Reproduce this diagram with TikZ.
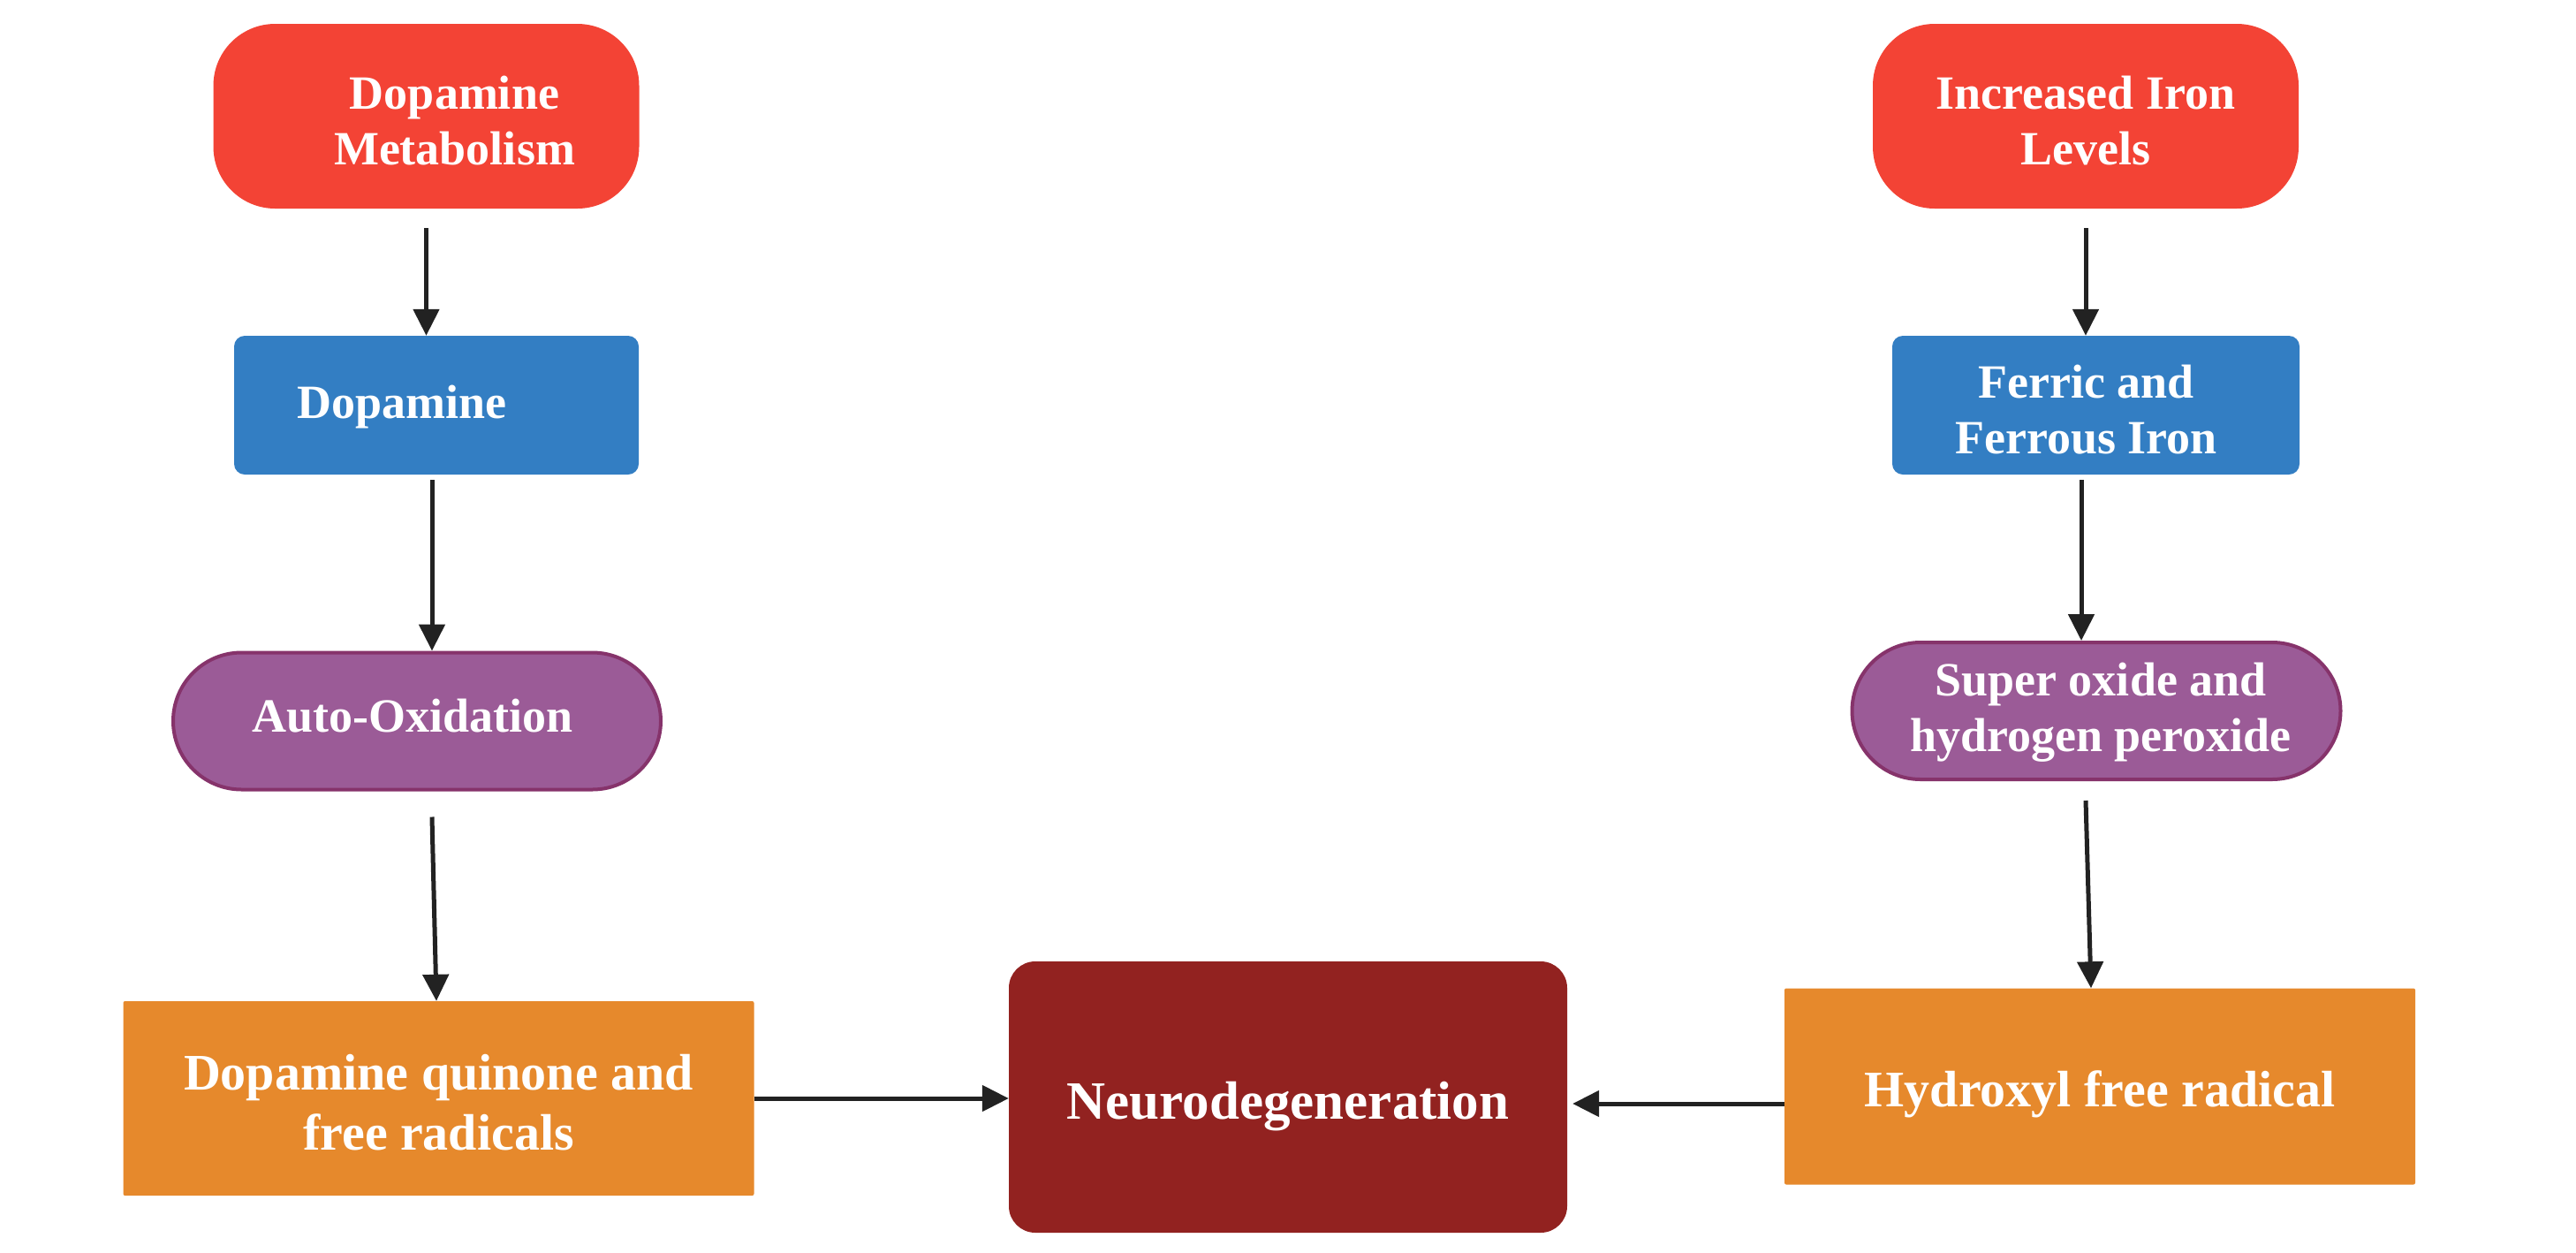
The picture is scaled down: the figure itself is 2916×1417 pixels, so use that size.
\documentclass[tikz,border=0pt]{standalone}
\usepackage{fontspec}
\setmainfont{Liberation Serif}
\usetikzlibrary{arrows.meta,shapes.misc}
\definecolor{cred}{HTML}{F34335}
\definecolor{cblue}{HTML}{337EC3}
\definecolor{cpurp}{HTML}{9B5B97}
\definecolor{cpurpd}{HTML}{86336B}
\definecolor{corange}{HTML}{E6892C}
\definecolor{cdark}{HTML}{922220}
\definecolor{carrow}{HTML}{222222}
\tikzset{
  box/.style={draw=none,inner sep=0pt,text=white,align=center,font=\bfseries\fontsize{54pt}{63pt}\selectfont},
  redbox/.style={box,fill=cred,rounded corners=70pt,minimum width=482pt,minimum height=209pt},
  bluebox/.style={box,fill=cblue,rounded corners=12pt,minimum height=157pt},
  pillbox/.style={box,fill=cpurp,draw=cpurpd,line width=4pt,rounded rectangle,minimum width=552pt,minimum height=155pt},
  orbox/.style={box,fill=corange,rounded corners=2pt,minimum width=714pt,font=\bfseries\fontsize{58pt}{68pt}\selectfont},
  neubox/.style={box,fill=cdark,rounded corners=30pt,minimum width=632pt,minimum height=307pt,font=\bfseries\fontsize{61pt}{70pt}\selectfont},
  arr/.style={draw=carrow,line width=5pt,-{Triangle[length=30pt,width=29pt]}},
}
% centred lines, drawn #1 lower than their natural place
\newcommand{\tl}[2]{\raisebox{-#1}[\height][\depth]{\begin{tabular}{@{}c@{}}#2\end{tabular}}}
\begin{document}
\begin{tikzpicture}[x=1pt,y=-1pt]
\useasboundingbox[fill=white] (0,0) rectangle (2916,1417);
% left column
\node[redbox] (dm) at (482.5,131.5) {\hspace*{64pt}\tl{11pt}{Dopamine\\Metabolism}};
\node[bluebox,minimum width=458pt] (dop) at (494,458.5) {\tl{2pt}{Dopamine}\hspace*{78pt}};
\node[pillbox] (auto) at (472,816) {\tl{0pt}{Auto-Oxidation}\hspace*{10pt}};
\node[orbox,minimum height=220pt] (dq) at (496.5,1243) {\tl{11pt}{Dopamine quinone and\\free radicals}};
% centre
\node[neubox] (neuro) at (1458,1241.5) {\tl{11pt}{Neurodegeneration}};
% right column
\node[redbox] (iron) at (2361,131.5) {\tl{11pt}{Increased Iron\\Levels}};
\node[bluebox,minimum width=461pt] (fer) at (2372.5,458.5) {\tl{11pt}{Ferric and\\Ferrous Iron}\hspace*{22pt}};
\node[pillbox,minimum width=553pt] (sup) at (2373,804.5) {\hspace*{10pt}\tl{2pt}{Super oxide and\\hydrogen peroxide}};
\node[orbox,minimum height=222pt] (hyd) at (2377,1229.5) {\tl{9pt}{Hydroxyl free radical}};
% connectors
\draw[arr] ([yshift=-22pt]dm.south) -- (dm.south |- dop.north);
\draw[arr] ([xshift=-5pt,yshift=-6pt]dop.south) -- ([xshift=17pt]auto.north);
\draw[arr] ([xshift=17pt,yshift=-29pt]auto.south) -- ([xshift=-2.5pt]dq.north);
\draw[arr] ([yshift=-22pt]iron.south) -- (iron.south |- fer.north);
\draw[arr] ([xshift=-16.5pt,yshift=-6pt]fer.south) -- ([xshift=-17pt]sup.north);
\draw[arr] ([xshift=-12pt,yshift=-22pt]sup.south) -- ([xshift=-10pt]hyd.north);
\draw[arr] (dq.east) -- (dq.east -| neuro.west);
\draw[arr,shorten >=6pt] ([yshift=-19.5pt]hyd.west) -- ([yshift=-19.5pt]hyd.west -| neuro.east);
\end{tikzpicture}
\end{document}
